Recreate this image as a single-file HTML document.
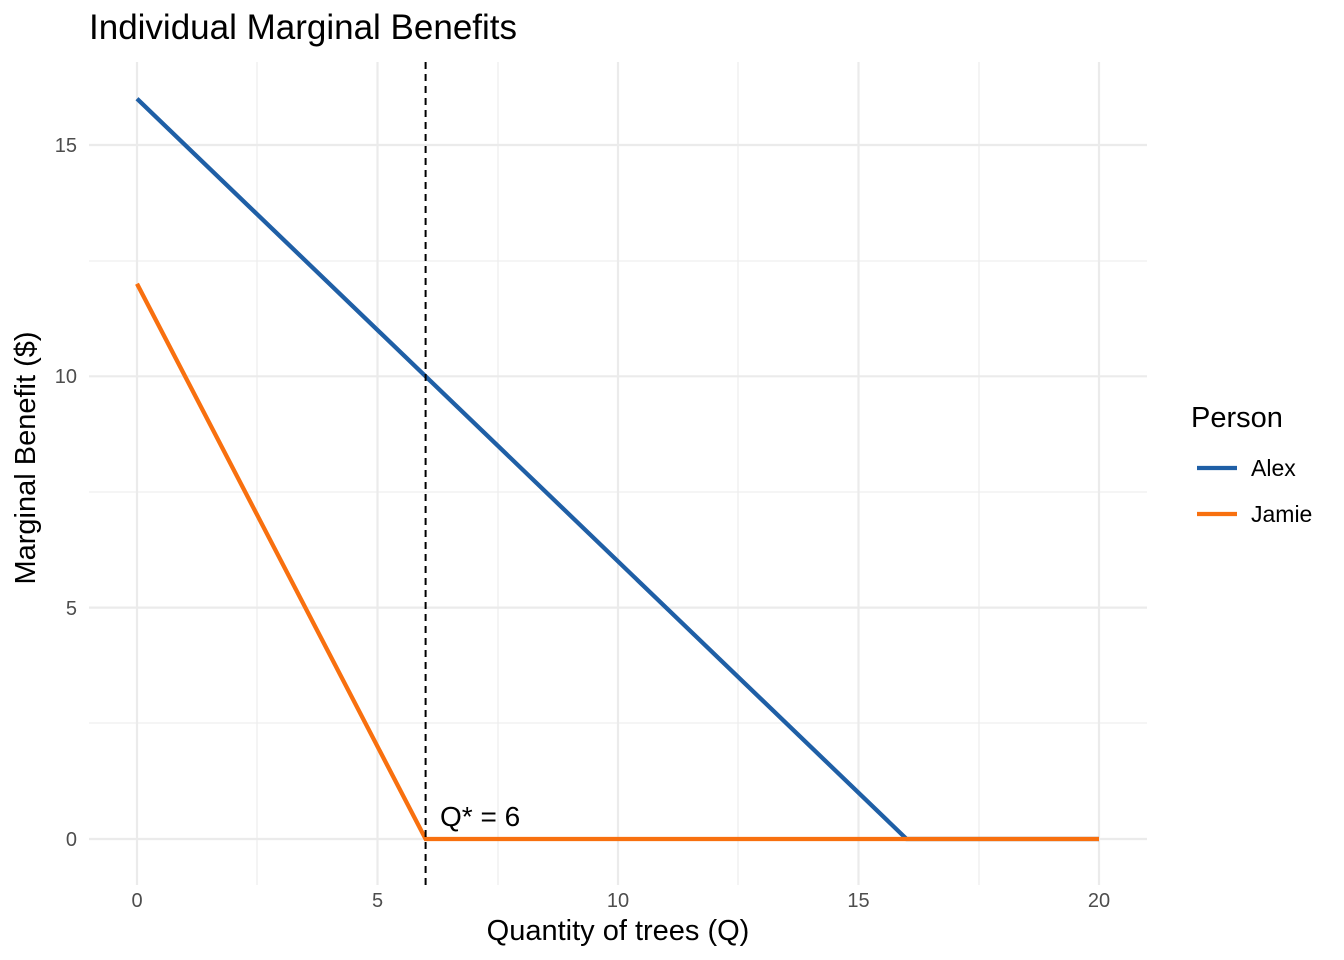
<!DOCTYPE html>
<html><head><meta charset="utf-8"><style>
body{margin:0;background:#fff;}
svg{display:block;font-family:"Liberation Sans",Arial,sans-serif;}
</style></head><body>
<svg width="1344" height="960" viewBox="0 0 1344 960">
<rect width="1344" height="960" fill="#fff"/>
<g stroke="#ebebeb" stroke-width="1.1">
<line x1="89" x2="1147" y1="723" y2="723"/>
<line x1="89" x2="1147" y1="492" y2="492"/>
<line x1="89" x2="1147" y1="261" y2="261"/>
<line x1="257" x2="257" y1="62" y2="885"/>
<line x1="498" x2="498" y1="62" y2="885"/>
<line x1="738" x2="738" y1="62" y2="885"/>
<line x1="979" x2="979" y1="62" y2="885"/>
</g>
<g stroke="#ebebeb" stroke-width="2.2">
<line x1="89" x2="1147" y1="839" y2="839"/>
<line x1="89" x2="1147" y1="607.6" y2="607.6"/>
<line x1="89" x2="1147" y1="376.3" y2="376.3"/>
<line x1="89" x2="1147" y1="145" y2="145"/>
<line x1="137" x2="137" y1="62" y2="885"/>
<line x1="377.5" x2="377.5" y1="62" y2="885"/>
<line x1="618" x2="618" y1="62" y2="885"/>
<line x1="858.5" x2="858.5" y1="62" y2="885"/>
<line x1="1099" x2="1099" y1="62" y2="885"/>
</g>
<polyline points="137,98.7 906.6,839 1099,839" fill="none" stroke="#1f5fa6" stroke-width="4.3"/>
<polyline points="137,283.8 425.6,839 1099,839" fill="none" stroke="#f8700f" stroke-width="4.3"/>
<line x1="425.6" x2="425.6" y1="62" y2="885" stroke="#000" stroke-width="2" stroke-dasharray="7,5"/>
<text x="440" y="826" font-size="28" fill="#000">Q* = 6</text>
<g font-size="20" fill="#4d4d4d" text-anchor="end">
<text x="77" y="846">0</text><text x="77" y="615">5</text><text x="77" y="383">10</text><text x="77" y="152">15</text>
</g>
<g font-size="20" fill="#4d4d4d" text-anchor="middle">
<text x="137" y="907">0</text><text x="377.5" y="907">5</text><text x="618" y="907">10</text><text x="858.5" y="907">15</text><text x="1099" y="907">20</text>
</g>
<text x="618" y="940" font-size="29" text-anchor="middle">Quantity of trees (Q)</text>
<text transform="translate(35,458) rotate(-90)" font-size="29" text-anchor="middle">Marginal Benefit ($)</text>
<text x="89" y="39" font-size="35">Individual Marginal Benefits</text>
<text x="1191" y="427" font-size="29">Person</text>
<line x1="1197" x2="1237" y1="468" y2="468" stroke="#1f5fa6" stroke-width="4.3"/>
<line x1="1197" x2="1237" y1="514" y2="514" stroke="#f8700f" stroke-width="4.3"/>
<text x="1251" y="476" font-size="23">Alex</text>
<text x="1251" y="522" font-size="23">Jamie</text>
</svg>
</body></html>
